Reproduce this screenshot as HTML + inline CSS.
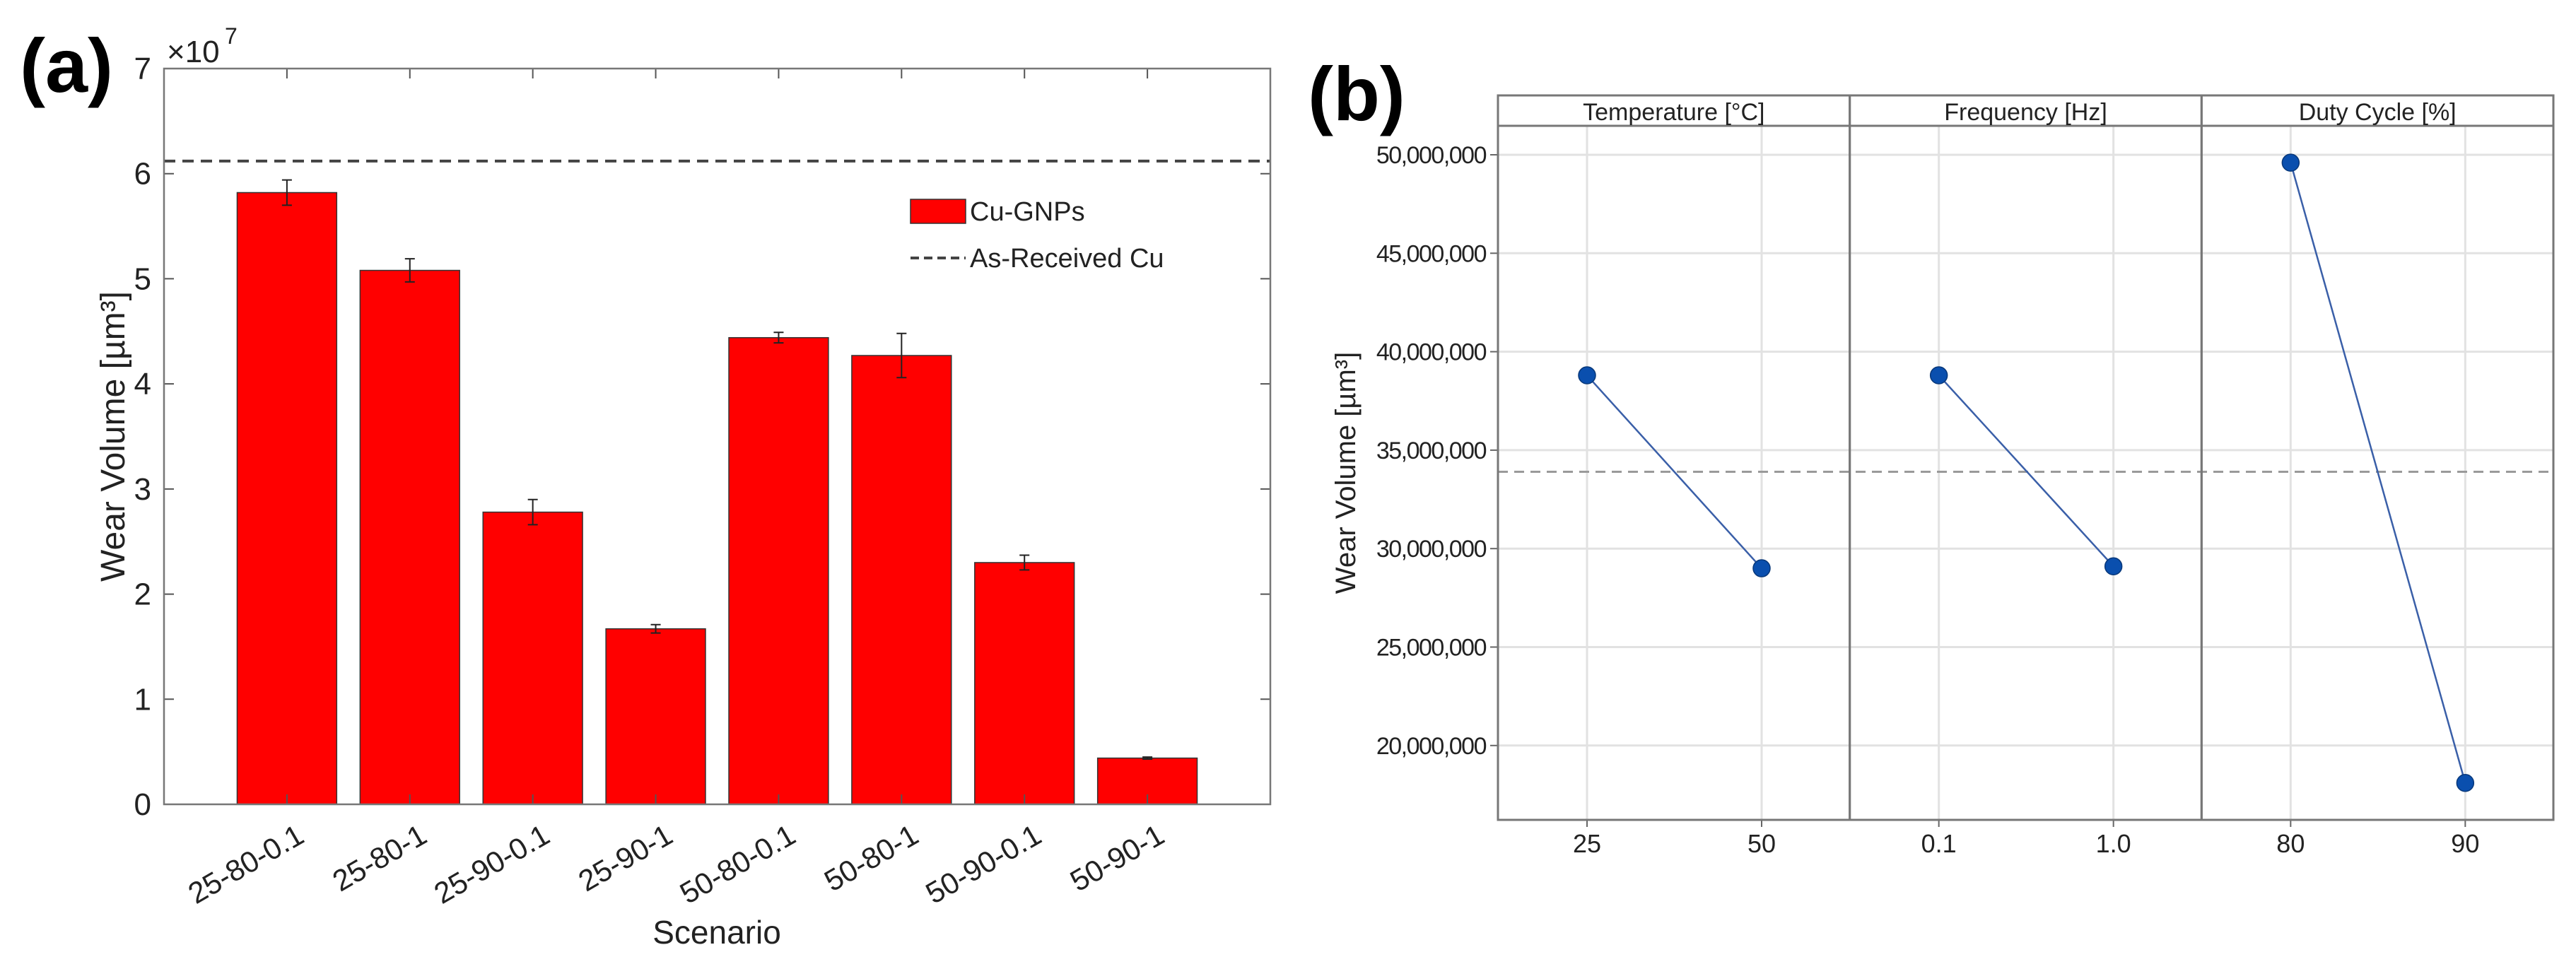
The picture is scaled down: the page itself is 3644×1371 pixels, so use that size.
<!DOCTYPE html>
<html><head><meta charset="utf-8"><style>
html,body{margin:0;padding:0;background:#fff;}
svg{display:block;}
text{font-family:"Liberation Sans",sans-serif;}
</style></head><body>
<svg id="fig" width="3644" height="1371" viewBox="0 0 3644 1371" xmlns="http://www.w3.org/2000/svg">
<rect width="3644" height="1371" fill="#fff"/>
<g id="pa"></g>
<g id="pb"></g>
</svg>
<script>
const scenarios=["25-80-0.1","25-80-1","25-90-0.1","25-90-1","50-80-0.1","50-80-1","50-90-0.1","50-90-1"];
const wearValues=[5.82,5.08,2.78,1.67,4.44,4.27,2.30,0.44];
const wearErrors=[0.12,0.11,0.12,0.04,0.05,0.21,0.07,0.01];
const asReceived=6.12;
const yTicksA=[0,1,2,3,4,5,6,7];

const factorNames=["Temperature [°C]","Frequency [Hz]","Duty Cycle [%]"];
const levelLabels=[["25","50"],["0.1","1.0"],["80","90"]];
const meanValues=[[38.8e6,29.0e6],[38.8e6,29.1e6],[49.6e6,18.1e6]];
const grandMean=33.9e6;
const yTicksB=[20e6,25e6,30e6,35e6,40e6,45e6,50e6];
const yTickLabelsB=["20,000,000","25,000,000","30,000,000","35,000,000","40,000,000","45,000,000","50,000,000"];

const NS="http://www.w3.org/2000/svg";
function mk(parent,tag,attrs,txt){const e=document.createElementNS(NS,tag);for(const k in attrs)e.setAttribute(k,attrs[k]);if(txt!==undefined)e.textContent=txt;parent.appendChild(e);return e;}

// ---------- Panel A ----------
const pa=document.getElementById('pa');
const L=232,R=1797,T=97,B=1138;
const xA=i=>L+(i+1)*(R-L)/9;
const yA=v=>B-v*(B-T)/7;
let e;
e=mk(pa,'text',{x:28,y:130,'font-size':108,'font-weight':'bold',fill:'#000'},'(a)');

scenarios.forEach((s,i)=>{
  const w=0.81*(R-L)/9;
  e=mk(pa,'rect',{x:xA(i)-w/2,y:yA(wearValues[i]),width:w,height:B-yA(wearValues[i]),fill:'#ff0000',stroke:'#333','stroke-width':1.5});
  
  const x=xA(i),y1=yA(wearValues[i]+wearErrors[i]),y2=yA(wearValues[i]-wearErrors[i]);
  e=mk(pa,'path',{d:`M${x},${y1}V${y2}M${x-7},${y1}H${x+7}M${x-7},${y2}H${x+7}`,stroke:'#222','stroke-width':2,fill:'none'});
  
  e=mk(pa,'text',{x:x+27,y:1190,'font-size':42,'text-anchor':'end',fill:'#222',transform:`rotate(-30 ${x+27} 1190)`},s);
  
  mk(pa,'path',{d:`M${x},${B}v-14M${x},${T}v14`,stroke:'#555','stroke-width':2});
});
yTicksA.forEach(v=>{
  const y=yA(v);
  mk(pa,'path',{d:`M${L},${y}h14M${R},${y}h-14`,stroke:'#555','stroke-width':2});
  e=mk(pa,'text',{x:214,y:y+15,'font-size':44,'text-anchor':'end',fill:'#222'},String(v));
  
});
e=mk(pa,'text',{x:236,y:88,'font-size':44,fill:'#222'},'×10');

mk(pa,'text',{x:318,y:62,'font-size':32,fill:'#222'},'7');
e=mk(pa,'line',{x1:L,x2:R,y1:yA(asReceived),y2:yA(asReceived),stroke:'#444','stroke-width':4,'stroke-dasharray':'16,10'});

e=mk(pa,'rect',{x:L,y:T,width:R-L,height:B-T,fill:'none',stroke:'#777','stroke-width':2.5});

e=mk(pa,'text',{x:0,y:0,'font-size':48,'text-anchor':'middle',fill:'#222',transform:`translate(176 ${(T+B)/2}) rotate(-90)`},'Wear Volume [µm³]');

e=mk(pa,'text',{x:1014,y:1335,'font-size':46,'text-anchor':'middle',fill:'#222'},'Scenario');

const lg=mk(pa,'g',{});

e=mk(lg,'rect',{x:1288,y:282,width:78,height:34,fill:'#ff0000',stroke:'#333','stroke-width':1.5});

mk(lg,'text',{x:1372,y:312,'font-size':38,fill:'#222'},'Cu-GNPs');
e=mk(lg,'line',{x1:1288,x2:1366,y1:365,y2:365,stroke:'#444','stroke-width':4,'stroke-dasharray':'12,7'});

mk(lg,'text',{x:1372,y:378,'font-size':38,fill:'#222'},'As-Received Cu');

// ---------- Panel B ----------
const pb=document.getElementById('pb');
const BL=2119,BR=3612,BT=135,SB=178,BB=1160;
const pw=(BR-BL)/3;
const yB=v=>219+(50e6-v)/5e6*139.3;
const xB=(p,j)=>BL+p*pw+126+j*247;
e=mk(pb,'text',{x:1850,y:170,'font-size':108,'font-weight':'bold',fill:'#000'},'(b)');

yTicksB.forEach((v,k)=>{
  const y=yB(v);
  mk(pb,'line',{x1:BL,x2:BR,y1:y,y2:y,stroke:'#e2e2e2','stroke-width':3});
  mk(pb,'line',{x1:BL-11,x2:BL,y1:y,y2:y,stroke:'#666','stroke-width':2});
  e=mk(pb,'text',{x:2102,y:y+12,'font-size':34,'text-anchor':'end',fill:'#222','letter-spacing':'-1.5'},yTickLabelsB[k]);
  
});
factorNames.forEach((f,p)=>{
  for(let j=0;j<2;j++){
    const x=xB(p,j);
    mk(pb,'line',{x1:x,x2:x,y1:SB,y2:BB,stroke:'#e2e2e2','stroke-width':3});
    mk(pb,'line',{x1:x,x2:x,y1:BB,y2:BB+10,stroke:'#666','stroke-width':2});
    e=mk(pb,'text',{x:x,y:1206,'font-size':36,'text-anchor':'middle',fill:'#222'},levelLabels[p][j]);
    
  }
});
e=mk(pb,'line',{x1:BL,x2:BR,y1:yB(grandMean),y2:yB(grandMean),stroke:'#9a9a9a','stroke-width':3,'stroke-dasharray':'14,9'});

factorNames.forEach((f,p)=>{
  e=mk(pb,'line',{x1:xB(p,0),y1:yB(meanValues[p][0]),x2:xB(p,1),y2:yB(meanValues[p][1]),stroke:'#3a5fa8','stroke-width':2.5});
  
  for(let j=0;j<2;j++){
    e=mk(pb,'circle',{cx:xB(p,j),cy:yB(meanValues[p][j]),r:12,fill:'#0a4fae',stroke:'#08387a','stroke-width':1.5});
    
  }
  const x0=BL+p*pw;
  e=mk(pb,'rect',{x:x0,y:BT,width:pw,height:BB-BT,fill:'none',stroke:'#777','stroke-width':3});
  
  mk(pb,'line',{x1:x0,x2:x0+pw,y1:SB,y2:SB,stroke:'#777','stroke-width':3});
  e=mk(pb,'text',{x:x0+pw/2,y:170,'font-size':34,'text-anchor':'middle',fill:'#222'},f);
  
});
e=mk(pb,'text',{x:0,y:0,'font-size':40,'text-anchor':'middle',fill:'#222',transform:`translate(1917 ${(SB+BB)/2}) rotate(-90)`},'Wear Volume [µm³]');

</script>
</body></html>
